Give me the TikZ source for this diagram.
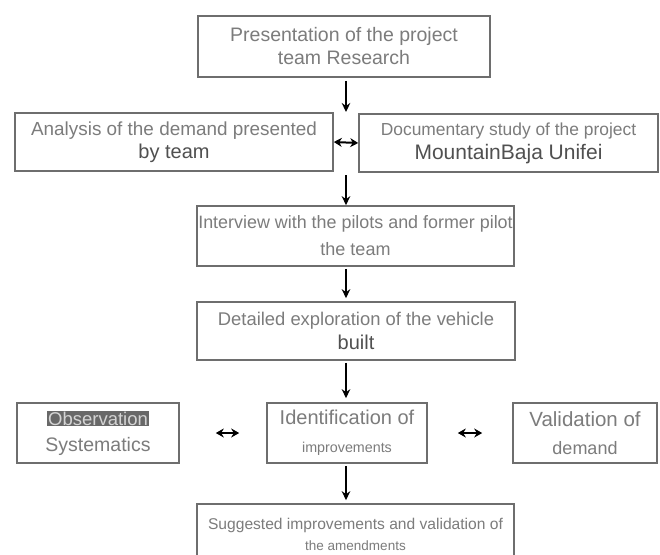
\documentclass[tikz,border=0pt]{standalone}
\usepackage{fontspec}
\setmainfont{Liberation Sans}
\usetikzlibrary{arrows.meta}
\definecolor{boxline}{HTML}{6E6E6E}
\definecolor{txt}{HTML}{7C7C7C}
\definecolor{txtdark}{HTML}{505050}
\definecolor{hl}{HTML}{686868}
\definecolor{hltxt}{HTML}{D4D4D4}
\newcommand{\fz}[2]{\fontsize{#1}{#2}\selectfont}
\begin{document}
\begin{tikzpicture}[x=1pt,y=-1pt,
  box/.style={draw=boxline, line width=1.6pt, inner sep=0pt, align=center, text=txt},
  arr/.style={-{Stealth[length=9pt,width=8.5pt]}, line width=1.6pt, black},
  darr/.style={{Stealth[length=8pt,width=9pt]}-{Stealth[length=8pt,width=9pt]}, line width=2pt, black}]
\fill[white] (0,0) rectangle (660,554);
\useasboundingbox (0,0) rectangle (660,554);

\node[box, minimum width=292pt, minimum height=61pt, font=\fz{19.5}{23}] (b1) at (344,46.5)
  {Presentation of the project\\ team Research};
\node[box, minimum width=318pt, minimum height=58pt, font=\fz{18.9}{23}] (b2) at (174,142)
  {Analysis of the demand presented\\ \fz{20}{23}\textcolor{txtdark}{by team}};
\node[box, minimum width=299pt, minimum height=58pt, font=\fz{17.4}{24}] (b3) at (508.5,143)
  {Documentary study of the project\\ \fz{21}{24}\textcolor{txtdark}{MountainBaja Unifei}};
\node[box, minimum width=317pt, minimum height=60pt, font=\fz{17.9}{27}] (b4) at (355.5,236)
  {Interview with the pilots and former pilot\\ \fz{18}{27}the team};
\node[box, minimum width=318pt, minimum height=58pt, font=\fz{18.4}{24}] (b5) at (356,331)
  {Detailed exploration of the vehicle\\ \fz{20}{24}\textcolor{txtdark}{built}};
\node[box, minimum width=162pt, minimum height=60pt, font=\fz{18.5}{26}] (b6a) at (98,433)
  {\setlength{\fboxsep}{1pt}\colorbox{hl}{\textcolor{hltxt}{Observation}}\\ \fz{19.5}{26}Systematics};
\node[box, minimum width=160pt, minimum height=60pt, font=\fz{20}{28}] (b6b) at (347,433)
  {Identification of\\ \fz{14.3}{28}improvements};
\node[box, minimum width=144pt, minimum height=60pt, font=\fz{20.5}{28}] (b6c) at (585,433)
  {Validation of\\ \fz{18}{28}demand};
\node[box, minimum width=317pt, minimum height=60pt, font=\fz{15.6}{21}] (b7) at (355.5,534)
  {Suggested improvements and validation of\\ \fz{13.5}{21}the amendments};

\coordinate (g1) at (346,112);
\coordinate (g2) at (346,175);
\draw[arr, shorten <=3pt] (b1.south -| g1) -- (g1);
\draw[darr] (b2.east) -- (b3.west);
\draw[arr] (g2) -- (b4.north -| g2);
\draw[arr, shorten <=2pt, shorten >=3pt] (b4.south -| g1) -- (b5.north -| g1);
\draw[arr, shorten <=2pt, shorten >=4pt] (b5.south -| g1) -- (b6b.north -| g1);
\draw[darr, shorten <=36pt, shorten >=27pt] (b6a.east) -- (b6b.west);
\draw[darr, shorten <=30pt, shorten >=30pt] (b6b.east) -- (b6c.west);
\draw[arr, shorten <=2pt, shorten >=3pt] (b6b.south -| g1) -- (b7.north -| g1);
\end{tikzpicture}
\end{document}
